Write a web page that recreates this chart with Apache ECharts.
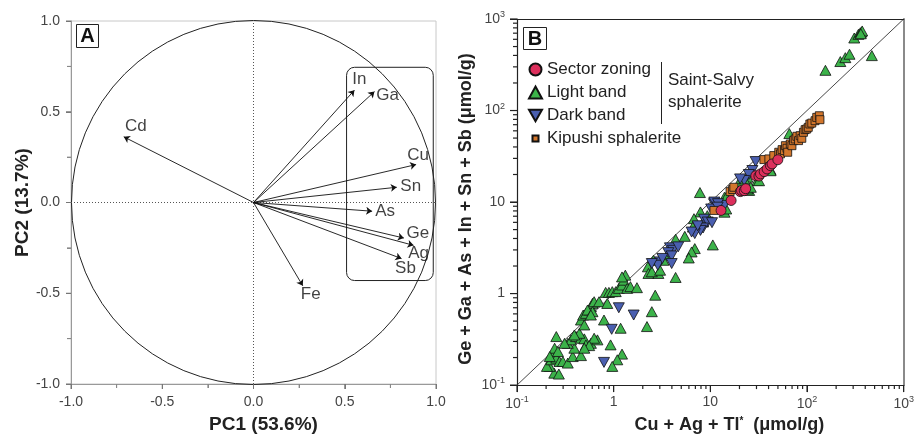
<!DOCTYPE html>
<html><head><meta charset="utf-8">
<script src="https://cdn.jsdelivr.net/npm/echarts@6/dist/echarts.min.js"></script>
<style>html,body{margin:0;padding:0;background:#fff}#c{width:917px;height:439px;background:#fff}</style>
</head><body><div id="c"></div>
<script>
// ---------- Panel A : PCA loadings ----------
const variables   = ['In', 'Ga', 'Cd', 'Cu', 'Sn', 'As', 'Ge', 'Ag', 'Sb', 'Fe'];
const pc1Loadings = [0.553, 0.663, -0.711, 0.891, 0.785, 0.650, 0.824, 0.877, 0.811, 0.270];
const pc2Loadings = [0.619, 0.611, 0.362, 0.209, 0.084, -0.048, -0.196, -0.236, -0.309, -0.459];
const pcaMajorTicks = [-1.0, -0.5, 0.0, 0.5, 1.0];
const pcaMinorTicks = [-0.75, -0.25, 0.25, 0.75];
const pcaBox = [[0.51, 0.745], [0.985, -0.43]];   // rounded frame grouping the loadings
const xTitleA = 'PC1 (53.6%)';
const yTitleA = 'PC2 (13.7%)';

// ---------- Panel B : scatter (µmol/g) ----------
const sectorZoning = [[12.9,8.1],[16.4,10.4],[20.4,13.0],[21,13.4],[22.4,13.3],[23.2,14.0],[29.5,19.4],[31.8,19.2],[33,20.3],[36,21.5],[38.6,23],[41.8,25],[43.5,26.1],[49.9,29]];
const lightBand = [
 [308,620],[340,680],[355,705],[365,720],[372,740],[360,690],
 [155,275],[221,343],[249,378],[275,412],[468,398],[65.6,56],
 [7.8,12.7],[10.6,3.4],
 [24.2,18.7],[30.6,17.2],[25.2,13.4],[14,11.3],[41.9,22.6],[20,16.7],[24.2,13.9],[26.2,14.5],[31.9,17.1],[42,22],[22.4,17.9],[14,7.75],[14.6,8.4],[15.1,10.8],[14.6,11.3],
 [7.9,7.8],[6.77,6.58],[5.44,4.22],[6.6,5.33],[4.37,3.92],[6.9,3.1],[6.4,2.85],[5.98,2.45],[3.59,2.63],[3.27,2.31],[2.58,2.31],[2.26,1.96],[2.29,1.66],[2.9,1.66],[4.37,1.5],[9.3,7.1],[8.4,6.05],[2.48,1.73],[3.02,1.8],
 [0.243,0.135],[0.271,0.132],[0.218,0.16],[0.204,0.16],[0.226,0.189],[0.236,0.214],[0.255,0.197],[0.275,0.181],[0.298,0.181],[0.245,0.253],[0.255,0.339],[0.265,0.233],[0.218,0.205],[0.335,0.174],
 [0.377,0.205],[0.459,0.21],[0.392,0.253],[0.335,0.286],[0.362,0.312],[0.408,0.339],[0.459,0.325],[0.497,0.32],[0.516,0.275],[0.581,0.286],[0.679,0.312],[0.628,0.325],[0.558,0.27],[0.497,0.253],[0.442,0.368],[0.392,0.353],[0.31,0.286],
 [0.459,0.514],[0.484,0.583],[0.516,0.608],[0.558,0.661],[0.581,0.719],[0.604,0.782],[0.628,0.815],[0.706,0.815],[0.537,0.661],[0.497,0.454],[0.604,0.634],[0.581,0.583],
 [0.826,1.03],[0.893,1.03],[0.967,1.05],[1.05,1.05],[1.13,1.14],[1.22,1.24],[1.27,1.40],[1.32,1.59],[1.22,1.52],[1.38,1.14],[1.49,1.19],[1.74,1.16],[0.859,0.78],[0.794,0.514],[1.18,0.418],[0.929,0.275],[1.22,0.218],[1.09,0.189],[0.967,0.16],[2.48,0.634],[2.69,0.96],[2.21,0.436]
];
const darkBand = [
 [1.13,0.70],[1.61,0.583],[0.953,0.407],[0.794,0.177],
 [10.9,9.6],[8.6,6.5],[9.4,6.05],[10.4,5.95],[8.4,5.2],[7.9,4.9],[6.9,4.52],[6.4,4.7],[7.4,5.5],[3.82,3.16],[4.1,2.97],[4.65,3.24],[3.67,2.80],[3.98,2.58],[3.98,2.13],[3.02,2.22],[2.86,2.04],[2.48,2.13],[3.19,2.42],
 [29.4,27.7],[27.2,22.1],[25,20],[22.4,17.2],[20.3,17.9],[11,10],[14,9.2],[10.2,8.4],[42.7,28.3],[12,9.6],[11.9,8.8]
];
const kipushi = [
 [10.9,8.1],[16,13],[17,13.7],[17.5,14.5],[35.8,29.1],[40.3,29.6],[45.3,32.2],[51,35],[53.1,33.6],[55.2,37.4],[58.3,36.5],[59.7,41.3],[62.1,38.7],[63.1,35],[67.1,43.1],[69.8,41.3],[72.6,46.9],[75.5,48.9],[78.5,52.3],[81.7,46.9],[84.9,53.1],[88.3,49.7],[91.8,57.8],[95.5,61.8],[99.3,62.8],[103,65.5],[107,71.2],[112,72.9],[121,77.4],[126,84.2],[134,87.7],[136,79.4]
];
const seriesNames = ['Sector zoning', 'Light band', 'Dark band', 'Kipushi sphalerite'];
const oneToOne = [[0.1, 0.1], [1000, 1000]];
const logMajorTicks = [0.1, 1, 10, 100, 1000];
const logMinorTicks = [0.2,0.3,0.4,0.5,0.6,0.7,0.8,0.9, 2,3,4,5,6,7,8,9, 20,30,40,50,60,70,80,90, 200,300,400,500,600,700,800,900];
const xTitleB = 'Cu + Ag + Tl{s|*}  (μmol/g)';
const yTitleB = 'Ge + Ga + As + In + Sn + Sb (μmol/g)';

// ---------- styling ----------
const FONT = '"Liberation Sans", Arial, Helvetica, sans-serif';
const labelOffsets = [[5,-11],[13,4],[12,-10],[2,-9],[14,-1],[13,0],[14,-5],[5,8],[4,10],[8,9]];
const C = { red:'#dc2f5c', green:'#3cb34a', blue:'#4a5fb0', orange:'#d2762c' };

function logLabel(v) {
  const e = Math.round(Math.log10(v));
  if (e === 0) return '1';
  if (e === 1) return '10';
  return '10{s|' + e + '}';
}
const logLabelStyle = {
  fontSize: 14, color: '#444', fontFamily: FONT, formatter: logLabel,
  rich: { s: { fontSize: 9, color: '#444', fontFamily: FONT, verticalAlign: 'top', lineHeight: 18 } }
};

const pcaAxisCommon = {
  type: 'value', min: -1, max: 1, interval: 0.5,
  axisLine: { show: true, onZero: false, lineStyle: { color: '#999', width: 1 } },
  axisTick: { show: true, length: 5, lineStyle: { color: '#777', width: 1 } },
  minorTick: { show: true, splitNumber: 2, length: 4, lineStyle: { color: '#888', width: 1 } },
  splitLine: { show: false },
  axisLabel: { fontSize: 14, color: '#444', fontFamily: FONT, formatter: v => v.toFixed(1) },
  nameLocation: 'middle'
};
const logAxisCommon = {
  gridIndex: 1, type: 'log', logBase: 10, min: 0.1, max: 1000,
  axisLine: { show: true, onZero: false, lineStyle: { color: '#222', width: 1.2 } },
  axisTick: { show: true, length: 7, lineStyle: { color: '#222', width: 1 } },
  minorTick: { show: false },
  splitLine: { show: false }, minorSplitLine: { show: false },
  nameLocation: 'middle'
};

// outward tick marks, positioned through the axes' own scales
function tickSeries(axisIdx, dim, values, anchor, len, color, width) {
  return {
    type: 'custom', xAxisIndex: axisIdx, yAxisIndex: axisIdx, silent: true, clip: false, z: 6,
    data: values.map(v => dim === 'x' ? [v, anchor] : [anchor, v]),
    renderItem: (params, api) => {
      const v = values[params.dataIndex];
      const p = api.coord(dim === 'x' ? [v, anchor] : [anchor, v]);
      const shape = dim === 'x'
        ? { x1: p[0], y1: p[1], x2: p[0], y2: p[1] + len }
        : { x1: p[0] - len, y1: p[1], x2: p[0], y2: p[1] };
      return { type: 'line', shape: shape, style: { stroke: color, lineWidth: width } };
    }
  };
}

const chart = echarts.init(document.getElementById('c'));
const option = {
  animation: false,
  grid: [
    { left: 71, right: 481, top: 21, bottom: 54, show: true, borderColor: '#c8c8c8', borderWidth: 1 },
    { left: 517, right: 9, top: 19, bottom: 52, show: false }
  ],
  xAxis: [
    Object.assign({}, pcaAxisCommon, { gridIndex: 0, position: 'bottom', name: xTitleA, nameGap: 31,
      nameTextStyle: { fontSize: 19, fontWeight: 'bold', color: '#222', fontFamily: FONT, padding: [0, 0, 0, 20] },
      axisLabel: Object.assign({}, pcaAxisCommon.axisLabel, { margin: 11 }) }),
    Object.assign({}, logAxisCommon, { position: 'bottom',
      axisLabel: Object.assign({ margin: 10 }, logLabelStyle),
      name: xTitleB, nameGap: 30,
      nameTextStyle: { fontSize: 18, fontWeight: 'bold', color: '#222', fontFamily: FONT, padding: [0, 0, 0, 38],
        rich: { s: { fontSize: 10, fontWeight: 'bold', color: '#222', fontFamily: FONT, verticalAlign: 'top' } } } }),
    { gridIndex: 1, type: 'log', logBase: 10, min: 0.1, max: 1000, position: 'top',
      axisLine: { show: true, onZero: false, lineStyle: { color: '#222', width: 1 } },
      axisTick: { show: false }, axisLabel: { show: false }, splitLine: { show: false } }
  ],
  yAxis: [
    Object.assign({}, pcaAxisCommon, { gridIndex: 0, position: 'left', name: yTitleA, nameGap: 38,
      nameTextStyle: { fontSize: 19, fontWeight: 'bold', color: '#222', fontFamily: FONT },
      axisLabel: Object.assign({}, pcaAxisCommon.axisLabel, { margin: 11 }) }),
    Object.assign({}, logAxisCommon, { position: 'left',
      axisLabel: Object.assign({ margin: 12 }, logLabelStyle),
      name: yTitleB, nameGap: 42,
      nameTextStyle: { fontSize: 18, fontWeight: 'bold', color: '#222', fontFamily: FONT, padding: [0, 14, 0, 0] } }),
    { gridIndex: 1, type: 'log', logBase: 10, min: 0.1, max: 1000, position: 'right',
      axisLine: { show: true, onZero: false, lineStyle: { color: '#8a8a8a', width: 2 } },
      axisTick: { show: false }, axisLabel: { show: false }, splitLine: { show: false } }
  ],
  legend: {
    orient: 'vertical', left: 523, top: 56, itemWidth: 13, itemHeight: 12, itemGap: 6,
    textStyle: { fontSize: 17, color: '#222', fontFamily: FONT },
    selectedMode: false,
    data: [
      { name: seriesNames[0], icon: 'circle' },
      { name: seriesNames[1], icon: 'triangle' },
      { name: seriesNames[2], icon: 'path://M0,0L10,0L5,8.66Z' },
      { name: seriesNames[3], icon: 'path://M0,0M14,14M3.5,3.5L10.5,3.5L10.5,10.5L3.5,10.5Z' }
    ]
  },
  graphic: [
    { type: 'group', left: 76, top: 24, children: [
      { type: 'rect', shape: { x: 0, y: 0, width: 22, height: 23 }, style: { fill: '#fff', stroke: '#222', lineWidth: 1 } },
      { type: 'text', x: 11, y: 12, style: { text: 'A', fontSize: 20, fontWeight: 'bold', fill: '#111', fontFamily: FONT, align: 'center', verticalAlign: 'middle' } }
    ]},
    { type: 'group', left: 523, top: 27, children: [
      { type: 'rect', shape: { x: 0, y: 0, width: 23, height: 22 }, style: { fill: '#fff', stroke: '#222', lineWidth: 1 } },
      { type: 'text', x: 11.5, y: 11.5, style: { text: 'B', fontSize: 20, fontWeight: 'bold', fill: '#111', fontFamily: FONT, align: 'center', verticalAlign: 'middle' } }
    ]},
    { type: 'line', shape: { x1: 661.5, y1: 62, x2: 661.5, y2: 124 }, style: { stroke: '#222', lineWidth: 1 } },
    { type: 'text', x: 668, y: 80, style: { text: 'Saint-Salvy', fontSize: 17, fill: '#222', fontFamily: FONT, verticalAlign: 'middle' } },
    { type: 'text', x: 668, y: 102, style: { text: 'sphalerite', fontSize: 17, fill: '#222', fontFamily: FONT, verticalAlign: 'middle' } }
  ],
  series: [
    // ----- Panel A -----
    { type: 'custom', xAxisIndex: 0, yAxisIndex: 0, silent: true, data: [[0, 0]], z: 1,
      renderItem: (params, api) => {
        const c = api.coord([0, 0]);
        const ex = api.coord([1, 0]);
        const ey = api.coord([0, 1]);
        const r = ((ex[0] - c[0]) + (c[1] - ey[1])) / 2;
        return { type: 'circle', shape: { cx: c[0], cy: c[1], r: r }, style: { fill: 'none', stroke: '#222', lineWidth: 1 } };
      } },
    { type: 'custom', xAxisIndex: 0, yAxisIndex: 0, silent: true, data: [[0, 0]], z: 1,
      renderItem: (params, api) => {
        const p1 = api.coord(pcaBox[0]);
        const p2 = api.coord(pcaBox[1]);
        return { type: 'rect', shape: { x: p1[0], y: p1[1], width: p2[0] - p1[0], height: p2[1] - p1[1], r: 8 },
          style: { fill: 'none', stroke: '#222', lineWidth: 1 } };
      } },
    { type: 'line', xAxisIndex: 0, yAxisIndex: 0, silent: true, symbol: 'none', data: [[-1, 0], [1, 0]],
      lineStyle: { color: '#555', width: 1, type: [1, 2] }, z: 1 },
    { type: 'line', xAxisIndex: 0, yAxisIndex: 0, silent: true, symbol: 'none', data: [[0, -1], [0, 1]],
      lineStyle: { color: '#555', width: 1, type: [1, 2] }, z: 1 },
    { type: 'lines', coordinateSystem: 'cartesian2d', xAxisIndex: 0, yAxisIndex: 0, silent: true, z: 3,
      symbol: ['none', 'arrow'], symbolSize: [1, 6],
      lineStyle: { color: '#111', width: 0.9, opacity: 1, curveness: 0 },
      data: variables.map((v, i) => ({ coords: [[0, 0], [pc1Loadings[i], pc2Loadings[i]]] })) },
    { type: 'scatter', xAxisIndex: 0, yAxisIndex: 0, silent: true, symbolSize: 1, z: 4,
      itemStyle: { color: 'transparent' },
      label: { show: true, position: 'inside', fontSize: 17, color: '#111', fontFamily: FONT, formatter: p => p.name },
      data: variables.map((v, i) => ({ name: v, value: [pc1Loadings[i], pc2Loadings[i]], label: { offset: labelOffsets[i] } })) },
    tickSeries(0, 'x', pcaMajorTicks, -1, 5, '#777', 1),
    tickSeries(0, 'x', pcaMinorTicks, -1, 4, '#888', 1),
    tickSeries(0, 'y', pcaMajorTicks, -1, 5, '#777', 1),
    tickSeries(0, 'y', pcaMinorTicks, -1, 4, '#888', 1),
    // ----- Panel B -----
    { type: 'line', xAxisIndex: 1, yAxisIndex: 1, silent: true, symbol: 'none', data: oneToOne,
      lineStyle: { color: '#333', width: 0.9 }, z: 1 },
    { name: seriesNames[1], type: 'scatter', xAxisIndex: 1, yAxisIndex: 1, data: lightBand, z: 2,
      symbol: 'triangle', symbolSize: [11, 10],
      itemStyle: { color: C.green, borderColor: '#111', borderWidth: 0.8, opacity: 1 } },
    { name: seriesNames[2], type: 'scatter', xAxisIndex: 1, yAxisIndex: 1, data: darkBand, z: 3,
      symbol: 'triangle', symbolRotate: 180, symbolSize: [11, 10],
      itemStyle: { color: C.blue, borderColor: '#111', borderWidth: 0.8, opacity: 1 } },
    { name: seriesNames[3], type: 'scatter', xAxisIndex: 1, yAxisIndex: 1, data: kipushi, z: 4,
      symbol: 'rect', symbolSize: 8,
      itemStyle: { color: C.orange, borderColor: '#111', borderWidth: 0.8, opacity: 1 } },
    { name: seriesNames[0], type: 'scatter', xAxisIndex: 1, yAxisIndex: 1, data: sectorZoning, z: 5,
      symbol: 'circle', symbolSize: 10,
      itemStyle: { color: C.red, borderColor: '#111', borderWidth: 0.8, opacity: 1 } },
    tickSeries(1, 'x', logMajorTicks, 0.1, 7, '#222', 1.2),
    tickSeries(1, 'x', logMinorTicks, 0.1, 4, '#222', 1.2),
    tickSeries(1, 'y', logMajorTicks, 0.1, 7, '#222', 1.2),
    tickSeries(1, 'y', logMinorTicks, 0.1, 4, '#222', 1.2)
  ]
};
chart.setOption(option);
</script>
</body></html>
